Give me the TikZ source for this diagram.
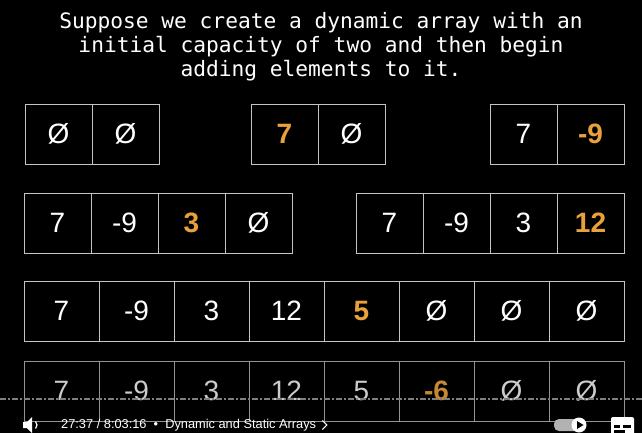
\documentclass[tikz,border=0pt]{standalone}
\usepackage{fontspec}
\setmainfont{Liberation Sans}
\newfontfamily\monofont{DejaVu Sans Mono}
\usepackage{xcolor}
\usetikzlibrary{positioning}
\definecolor{linegray}{HTML}{C4C4C4}
\definecolor{accent}{HTML}{E9A23B}
\begin{document}
\begin{tikzpicture}[x=1pt,y=1pt,node distance=0pt,
  cell/.style={draw=linegray,line width=0.9pt,outer sep=0pt,inner sep=0pt,minimum width=67pt,minimum height=60pt,text=white,font=\fontsize{28}{28}\selectfont},
  wide/.style={cell,minimum width=75pt},
  new/.style={text=accent,font=\fontsize{28}{28}\selectfont\bfseries},
  dim/.style={draw=linegray!75!black,text=white!80!black}]
\fill[black] (0,0) rectangle (642,-433);
\useasboundingbox (0,0) rectangle (642,-433);
\node[text=white,align=center,font=\monofont\fontsize{21.2}{24}\selectfont](title) at (321,-47)
  {Suppose we create a dynamic array with an\\initial capacity of two and then begin\\adding elements to it.};
% first row: capacity two
\node[cell](a1) at (58.5,-134){Ø};
\node[cell,right=of a1](a2){Ø};
\node[cell,new](b1) at (284.5,-134){7};
\node[cell,right=of b1](b2){Ø};
\node[cell](c1) at (523.5,-134){7};
\node[cell,new,right=of c1](c2){-9};
% second row: capacity four
\node[cell](d1) at (57.5,-223){7};
\node[cell,right=of d1](d2){-9};
\node[cell,new,right=of d2](d3){3};
\node[cell,right=of d3](d4){Ø};
\node[cell](e1) at (389.5,-223){7};
\node[cell,right=of e1](e2){-9};
\node[cell,right=of e2](e3){3};
\node[cell,new,right=of e3](e4){12};
% third row: capacity eight
\node[wide](f1) at (61.5,-311){7};
\node[wide,right=of f1](f2){-9};
\node[wide,right=of f2](f3){3};
\node[wide,right=of f3](f4){12};
\node[wide,new,right=of f4](f5){5};
\node[wide,right=of f5](f6){Ø};
\node[wide,right=of f6](f7){Ø};
\node[wide,right=of f7](f8){Ø};
% fourth row
\node[wide,dim](g1) at (61.5,-391){7};
\node[wide,dim,right=of g1](g2){-9};
\node[wide,dim,right=of g2](g3){3};
\node[wide,dim,right=of g3](g4){12};
\node[wide,dim,right=of g4](g5){5};
\node[wide,dim,new,text=accent!85!black,right=of g5](g6){-6};
\node[wide,dim,right=of g6](g7){Ø};
\node[wide,dim,right=of g7](g8){Ø};
% player bar
\coordinate (barl) at (0,-399);
\coordinate (barr) at (642,-399);
\draw[gray,line width=1.5pt,dash pattern=on 6pt off 2pt on 2pt off 2pt] (barl)--(barr);
\node[anchor=west,inner sep=0pt,text=white,font=\fontsize{12.8}{13}\selectfont](info) at (61,-425)
  {27:37 / 8:03:16 \ \textbullet\ \ Dynamic and Static Arrays};
\draw[white,line width=1pt] ([xshift=6pt,yshift=4.5pt]info.east) -- ++(4.5,-4.5) -- ++(-4.5,-4.5);
\fill[white] (23,-422)--(27,-422)--(32,-417)--(32,-433)--(27,-428)--(23,-428)--cycle;
\draw[white,line width=1.2pt] (32,-425) ++(45:5) arc (45:-45:5);
\fill[gray!60,rounded corners=5pt] (554,-419) rectangle (584,-431);
\fill[white] (579,-425) circle (7.5);
\fill[black] (577,-421)--(577,-429)--(583.5,-425)--cycle;
\fill[white,rounded corners=2pt] (611,-417) rectangle (634,-440);
\fill[black] (614,-425) rectangle (620,-427.5);
\fill[black] (623,-425) rectangle (631,-427.5);
\fill[black] (614,-430) rectangle (625,-432.5);
\end{tikzpicture}
\end{document}
